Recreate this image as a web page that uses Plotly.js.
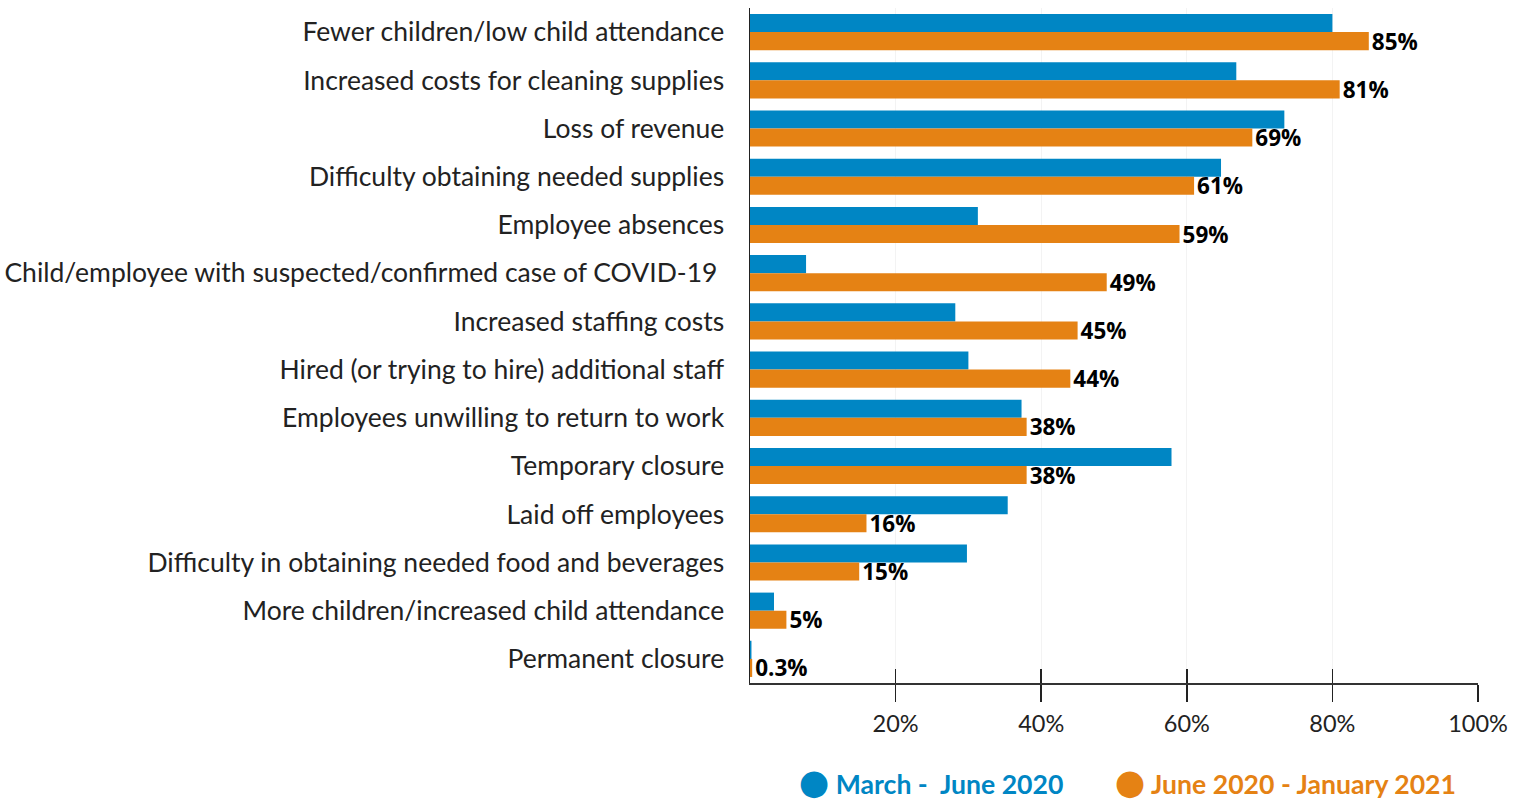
<!DOCTYPE html>
<html>
<head>
<meta charset="utf-8">
<script src="https://cdn.plot.ly/plotly-3.0.1.min.js"></script>
<style>html,body{margin:0;padding:0;background:#fff;}#chart{width:1531px;height:802px;}</style>
</head>
<body>
<div id="chart"></div>
<script>
const categories = [
  "Fewer children/low child attendance",
  "Increased costs for cleaning supplies",
  "Loss of revenue",
  "Difficulty obtaining needed supplies",
  "Employee absences",
  "Child/employee with suspected/confirmed case of COVID-19 ",
  "Increased staffing costs",
  "Hired (or trying to hire) additional staff",
  "Employees unwilling to return to work",
  "Temporary closure",
  "Laid off employees",
  "Difficulty in obtaining needed food and beverages",
  "More children/increased child attendance",
  "Permanent closure"
];
const marchJune2020 = [80, 66.8, 73.4, 64.7, 31.3, 7.7, 28.2, 30, 37.3, 57.9, 35.4, 29.8, 3.3, 0.2];
const june2020Jan2021 = [85, 81, 69, 61, 59, 49, 45, 44, 38, 38, 16, 15, 5, 0.3];
const labelsJune2020Jan2021 = ["85%","81%","69%","61%","59%","49%","45%","44%","38%","38%","16%","15%","5%","0.3%"];
const seriesNames = ["March -\u00a0 June 2020", "June 2020 - January 2021"];
const tickVals = [20, 40, 60, 80, 100];
const tickText = ["20%", "40%", "60%", "80%", "100%"];

const BLUE = "#0086C4";
const ORANGE = "#E58214";

function legendName(color, text, trail) {
  return '<span style="color:' + color + ';font-family:DejaVu Sans;font-size:35px">\u25CF</span>' +
         '<span style="color:' + color + '">\u00a0' + text + trail + '</span>';
}

const traces = [
  {type: "bar", orientation: "h", y: categories, x: marchJune2020, name: seriesNames[0],
   marker: {color: BLUE}, showlegend: false, hoverinfo: "x+y"},
  {type: "bar", orientation: "h", y: categories, x: june2020Jan2021, name: seriesNames[1],
   marker: {color: ORANGE}, showlegend: false,
   text: labelsJune2020Jan2021, textposition: "outside", cliponaxis: false, constraintext: "none",
   textfont: {family: "Open Sans", size: 22.5, color: "#000", weight: "bold"}, hoverinfo: "x+y"},
  {type: "scatter", mode: "markers", x: [null], y: [null], name: legendName(BLUE, seriesNames[0], "\u00a0"),
   marker: {color: "rgba(0,0,0,0)", size: 1}, showlegend: true},
  {type: "scatter", mode: "markers", x: [null], y: [null], name: legendName(ORANGE, seriesNames[1], ""),
   marker: {color: "rgba(0,0,0,0)", size: 1}, showlegend: true}
];

const layout = {
  width: 1531, height: 802,
  margin: {l: 750, r: 53, t: 8, b: 119, autoexpand: false},
  paper_bgcolor: "#fff", plot_bgcolor: "#fff",
  barmode: "group", bargap: 0.25, bargroupgap: 0,
  font: {family: "Lato", size: 20, color: "#222"},
  xaxis: {
    range: [0, 100], tickvals: tickVals, ticktext: tickText,
    ticks: "outside", ticklen: 17, tickwidth: 1.5, tickcolor: "#222",
    ticklabelstandoff: 2,
    showline: true, linecolor: "#333", linewidth: 2,
    showgrid: true, gridcolor: "#f3f3f3", gridwidth: 1, zeroline: false,
    tickfont: {family: "Lato", size: 23.5, color: "#222"}, fixedrange: true, automargin: false
  },
  xaxis2: {
    overlaying: "x", matches: "x", side: "bottom", anchor: "y",
    tickvals: tickVals, ticks: "inside", ticklen: 14, tickwidth: 1.5, tickcolor: "#222",
    showticklabels: false, showgrid: false, zeroline: false, showline: false
  },
  yaxis: {
    autorange: "reversed", type: "category",
    showline: true, linecolor: "#222", linewidth: 1.5,
    ticks: "", ticklabelstandoff: 19,
    tickfont: {family: "Lato", size: 26.5, color: "#222"}, fixedrange: true, automargin: false
  },
  showlegend: true,
  legend: {
    orientation: "h", x: 0.012, xanchor: "left", y: -0.114, yanchor: "top",
    font: {family: "Lato", size: 26.6, weight: "bold"},
    itemwidth: 30, traceorder: "normal"
  }
};

traces.push({type: "scatter", mode: "markers", x: [null], y: [null], xaxis: "x2", showlegend: false, hoverinfo: "skip"});

Plotly.newPlot("chart", traces, layout, {displayModeBar: false, staticPlot: true});
</script>
</body>
</html>
